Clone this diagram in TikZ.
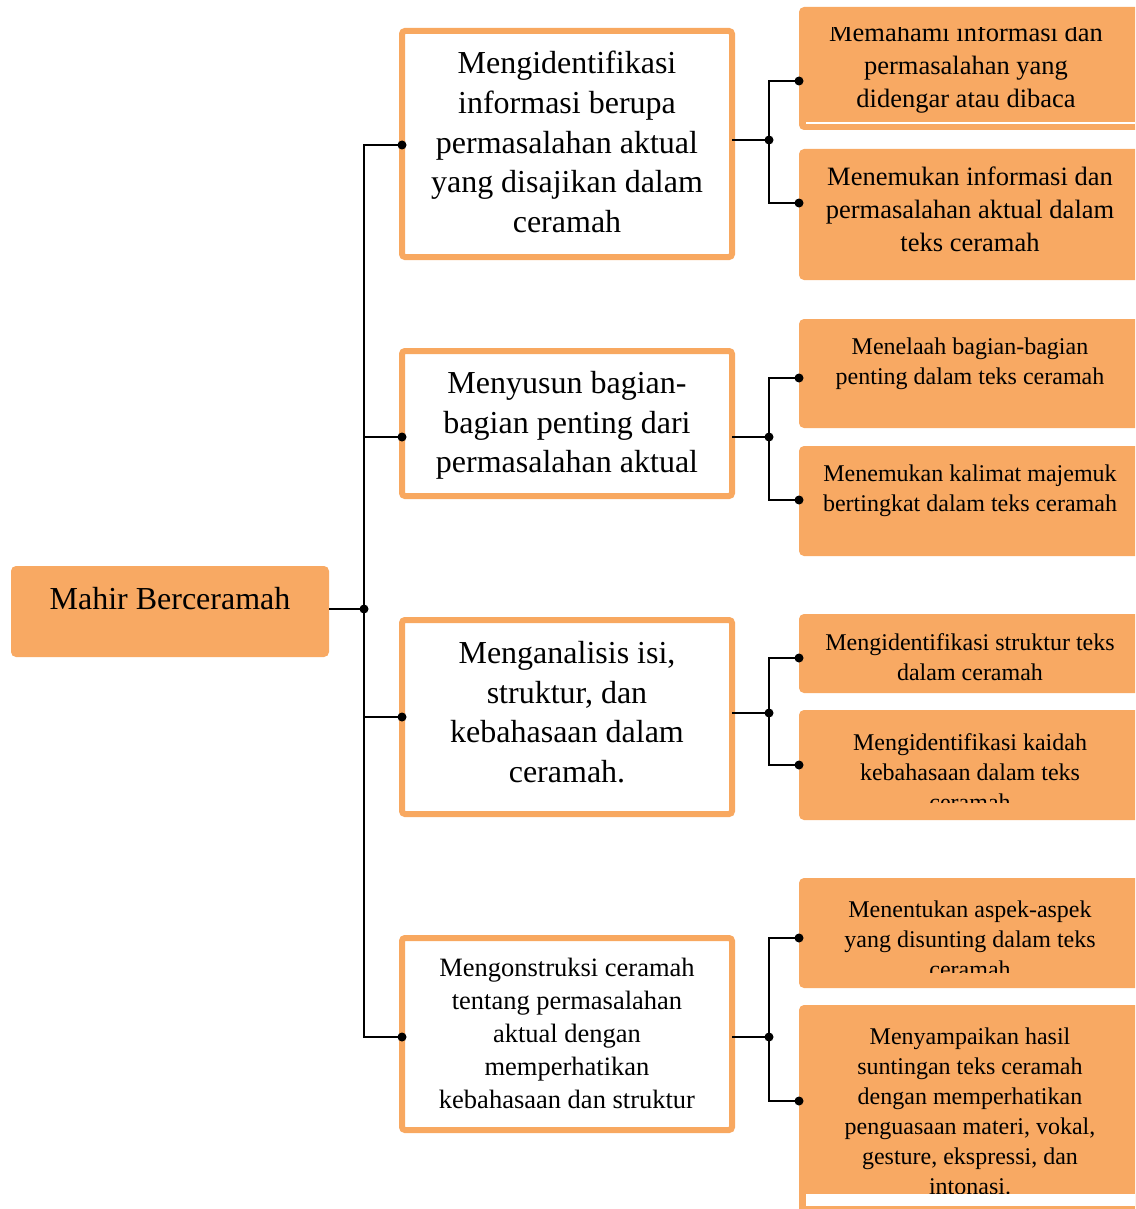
\documentclass[tikz,border=0pt]{standalone}
\usepackage{fontspec}
\setmainfont{Liberation Serif}
\definecolor{orfill}{HTML}{F8A963}
\definecolor{orline}{HTML}{F8A860}
\newcommand\fbig{\fontsize{32}{39.75}\selectfont}
\newcommand\fmed{\fontsize{26.5}{33}\selectfont}
\newcommand\fsml{\fontsize{24}{30}\selectfont}
\tikzset{
  lbl/.style={align=center, inner sep=0pt, anchor=north, text=black},
  obox/.style={rectangle, fill=orfill, rounded corners=5pt, inner sep=0pt, outer sep=0pt},
  mbox/.style={rectangle, draw=orline, line width=6pt, fill=white, rounded corners=3pt, inner sep=0pt, outer sep=0pt},
  conn/.style={line width=1.8pt, black},
  jdot/.style={circle, fill=black, inner sep=0pt, minimum size=9pt}
}
\begin{document}
\begin{tikzpicture}[x=1pt,y=-1pt]
\clip (0,0) rectangle (1135,1209);
\fill[white] (0,0) rectangle (1135,1209);

% root
\node[obox, minimum width=318pt, minimum height=91pt] (m) at (170,611.5) {};
\node[lbl, font=\fbig] (t0) at (170,587) {Mahir Berceramah};

% middle boxes
\node[mbox, minimum width=330pt, minimum height=226pt] (b1) at (567,144) {};
\node[mbox, minimum width=330pt, minimum height=145pt] (b2) at (567,423.5) {};
\node[mbox, minimum width=330pt, minimum height=194pt] (b3) at (567,717) {};
\node[mbox, minimum width=330pt, minimum height=192pt] (b4) at (567,1034) {};

\node[lbl, font=\fbig] (tb1) at (567,51) {Mengidentifikasi\\informasi berupa\\permasalahan aktual\\yang disajikan dalam\\ceramah};
\node[lbl, font=\fbig] (tb2) at (567,371) {Menyusun bagian-\\bagian penting dari\\permasalahan aktual};
\node[lbl, font=\fbig] (tb3) at (567,641) {Menganalisis isi,\\struktur, dan\\kebahasaan dalam\\ceramah.};
\node[lbl, font=\fmed] (tb4) at (567,958) {Mengonstruksi ceramah\\tentang permasalahan\\aktual dengan\\memperhatikan\\kebahasaan dan struktur};

% right boxes
\node[obox, minimum width=346pt, minimum height=123pt] (r1) at (972,68.5) {};
\node[obox, minimum width=346pt, minimum height=131pt] (r2) at (972,214.5) {};
\node[obox, minimum width=346pt, minimum height=109pt] (r3) at (972,373.5) {};
\node[obox, minimum width=346pt, minimum height=110pt] (r4) at (972,501) {};
\node[obox, minimum width=346pt, minimum height=79pt] (r5) at (972,653.5) {};
\node[obox, minimum width=346pt, minimum height=110pt] (r6) at (972,765) {};
\node[obox, minimum width=346pt, minimum height=110pt] (r7) at (972,933) {};
\node[obox, minimum width=346pt, minimum height=220pt] (r8) at (972,1115) {};

\begin{scope}
\clip (799,28) rectangle (1135,131);
\node[lbl, font=\fmed] (tr1) at (966,23) {Memahami informasi dan\\permasalahan yang\\didengar atau dibaca};
\end{scope}
\fill[white] (806,122.5) rectangle (1135,124.5);
\node[lbl, font=\fmed] (tr2) at (970,167) {Menemukan informasi dan\\permasalahan aktual dalam\\teks ceramah};
\node[lbl, font=\fsml] (tr3) at (970,338) {Menelaah bagian-bagian\\penting dalam teks ceramah};
\node[lbl, font=\fsml] (tr4) at (970,465) {Menemukan kalimat majemuk\\bertingkat dalam teks ceramah};
\node[lbl, font=\fsml] (tr5) at (970,633) {Mengidentifikasi struktur teks\\dalam ceramah};
\begin{scope}
\clip (799,710) rectangle (1135,802);
\node[lbl, font=\fsml] (tr6) at (970,733) {Mengidentifikasi kaidah\\kebahasaan dalam teks\\ceramah};
\end{scope}
\begin{scope}
\clip (799,878) rectangle (1135,972);
\node[lbl, font=\fsml] (tr7) at (970,901) {Menentukan aspek-aspek\\yang disunting dalam teks\\ceramah};
\end{scope}
\node[lbl, font=\fsml] (tr8) at (970,1028) {Menyampaikan hasil\\suntingan teks ceramah\\dengan memperhatikan\\penguasaan materi, vokal,\\gesture, ekspressi, dan\\intonasi.};
\fill[white] (806,1194) rectangle (1135,1206);

% connection points
\coordinate (j0) at (364,609);
\coordinate (b1in) at (b1.west |- 0,145);
\coordinate (b2in) at (b2.west |- 0,437);
\coordinate (b3in) at (b3.west |- 0,717);
\coordinate (b4in) at (b4.west |- 0,1037);
\coordinate (j1) at (769,140);
\coordinate (j2) at (769,437);
\coordinate (j3) at (769,713);
\coordinate (j4) at (769,1037);
\coordinate (r1in) at (r1.west |- 0,81);
\coordinate (r2in) at (r2.west |- 0,203);
\coordinate (r3in) at (r3.west |- 0,378);
\coordinate (r4in) at (r4.west |- 0,500);
\coordinate (r5in) at (r5.west |- 0,658);
\coordinate (r6in) at (r6.west |- 0,765);
\coordinate (r7in) at (r7.west |- 0,938);
\coordinate (r8in) at (r8.west |- 0,1101);

% left tree
\draw[conn] (m.east |- j0) -- (j0);
\draw[conn] (b1in) -| (j0) |- (b4in);
\draw[conn] (j0 |- b2in) -- (b2in);
\draw[conn] (j0 |- b3in) -- (b3in);

% right trees
\draw[conn] (b1.east |- j1) -- (j1);
\draw[conn] (r1in) -| (j1) |- (r2in);
\draw[conn] (b2.east |- j2) -- (j2);
\draw[conn] (r3in) -| (j2) |- (r4in);
\draw[conn] (b3.east |- j3) -- (j3);
\draw[conn] (r5in) -| (j3) |- (r6in);
\draw[conn] (b4.east |- j4) -- (j4);
\draw[conn] (r7in) -| (j4) |- (r8in);

% dots
\foreach \p in {j0,b1in,b2in,b3in,b4in,j1,j2,j3,j4,r1in,r2in,r3in,r4in,r5in,r6in,r7in,r8in}
  \node[jdot] at (\p) {};
\end{tikzpicture}
\end{document}
